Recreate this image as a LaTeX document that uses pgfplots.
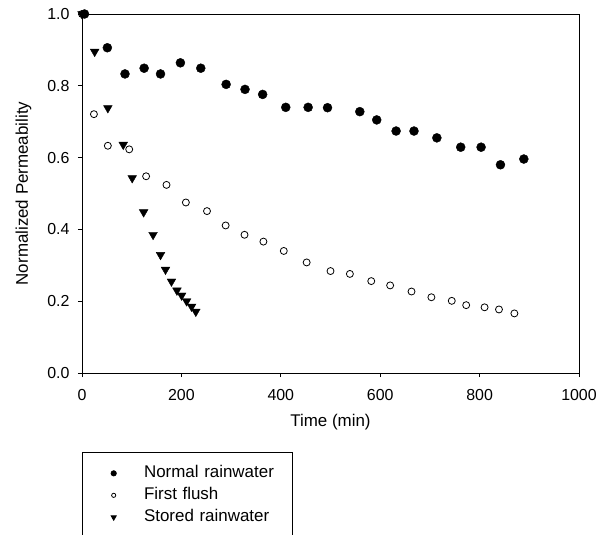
\documentclass[border=0pt]{standalone}
\usepackage{pgfplots}
\pgfplotsset{compat=1.18}
\usepackage{fontspec}
\setmainfont{Liberation Sans}
\begin{document}
\begin{tikzpicture}
\begin{axis}[
  scale only axis,
  width=497bp, height=359bp,
  xmin=0, xmax=1000, ymin=0, ymax=1.0,
  xtick={0,200,400,600,800,1000},
  ytick={0,0.2,0.4,0.6,0.8,1.0},
  yticklabel style={xshift=-5bp,/pgf/number format/.cd,fixed,fixed zerofill,precision=1},
  xticklabel style={yshift=-9bp,/pgf/number format/.cd,1000 sep={}},
  /pgf/number format/assume math mode=true,
  tick align=outside,
  major tick length=4bp,
  xtick pos=bottom, ytick pos=left,
  axis line style={line width=0.7bp},
  tick style={line width=0.7bp, black},
  ticklabel style={font=\fontsize{16}{18}\selectfont},
  xlabel={Time (min)},
  ylabel={Normalized Permeability},
  label style={font=\fontsize{17}{20}\selectfont},
  xlabel style={yshift=-7bp},
  ylabel style={yshift=9bp},
  clip=false,
  legend image code/.code={\path (-31bp,0bp) (26.5bp,0bp); \draw[#1, scale=0.6] plot coordinates {(0bp,0bp)};},
  legend style={at={(0,-0.22)}, anchor=north west, draw=black, line width=0.7bp,
    inner xsep=0bp, inner ysep=10bp, column sep=0bp, row sep=0bp,
    font=\fontsize{17}{20}\selectfont,
    nodes={text width=145bp, align=left, text height=12bp, text depth=4bp, inner xsep=3.5bp, inner ysep=3bp}},
  legend cell align=left,
]
\addplot[only marks, mark=*, mark size=4.5bp, mark options={fill=black, draw=black}] coordinates {
(5,1.0) (51,0.906) (86.5,0.833) (125,0.849) (158,0.833) (198,0.864) (239,0.849)
(290,0.804) (328,0.790) (363.5,0.776) (410,0.740) (455,0.740) (494,0.739)
(559,0.728) (593,0.705) (632,0.674) (668,0.674) (714,0.655) (762,0.629)
(803,0.629) (842,0.580) (889,0.596)
};
\addlegendentry{Normal rainwater}
\addplot[only marks, mark=o, mark size=3.5bp, mark options={draw=black, fill=white, line width=0.8bp}] coordinates {
(0,1.0) (24,0.721) (52,0.633) (95,0.623) (129,0.548) (170,0.524) (209,0.475)
(251.5,0.451) (289,0.411) (327,0.385) (365,0.366) (406,0.340) (452,0.308)
(500,0.284) (539,0.276) (582,0.256) (620,0.244) (663,0.227) (703,0.211)
(744,0.201) (773,0.189) (810,0.183) (839,0.177) (870,0.166)
};
\addlegendentry{First flush}
\addplot[only marks, mark=triangle*, mark size=5bp, mark options={fill=black, draw=black, rotate=180}] coordinates {
(0,1.0) (25.5,0.895) (52,0.738) (83,0.636) (101,0.543) (124,0.448) (143,0.385)
(158,0.329) (168,0.288) (180,0.255) (191,0.230) (200.5,0.216) (210.5,0.200)
(220.5,0.185) (229,0.171)
};
\addlegendentry{Stored rainwater}
\end{axis}
\pgfresetboundingbox
\path[use as bounding box] (-82bp,-162bp) rectangle (527bp,373bp);
\end{tikzpicture}
\end{document}
